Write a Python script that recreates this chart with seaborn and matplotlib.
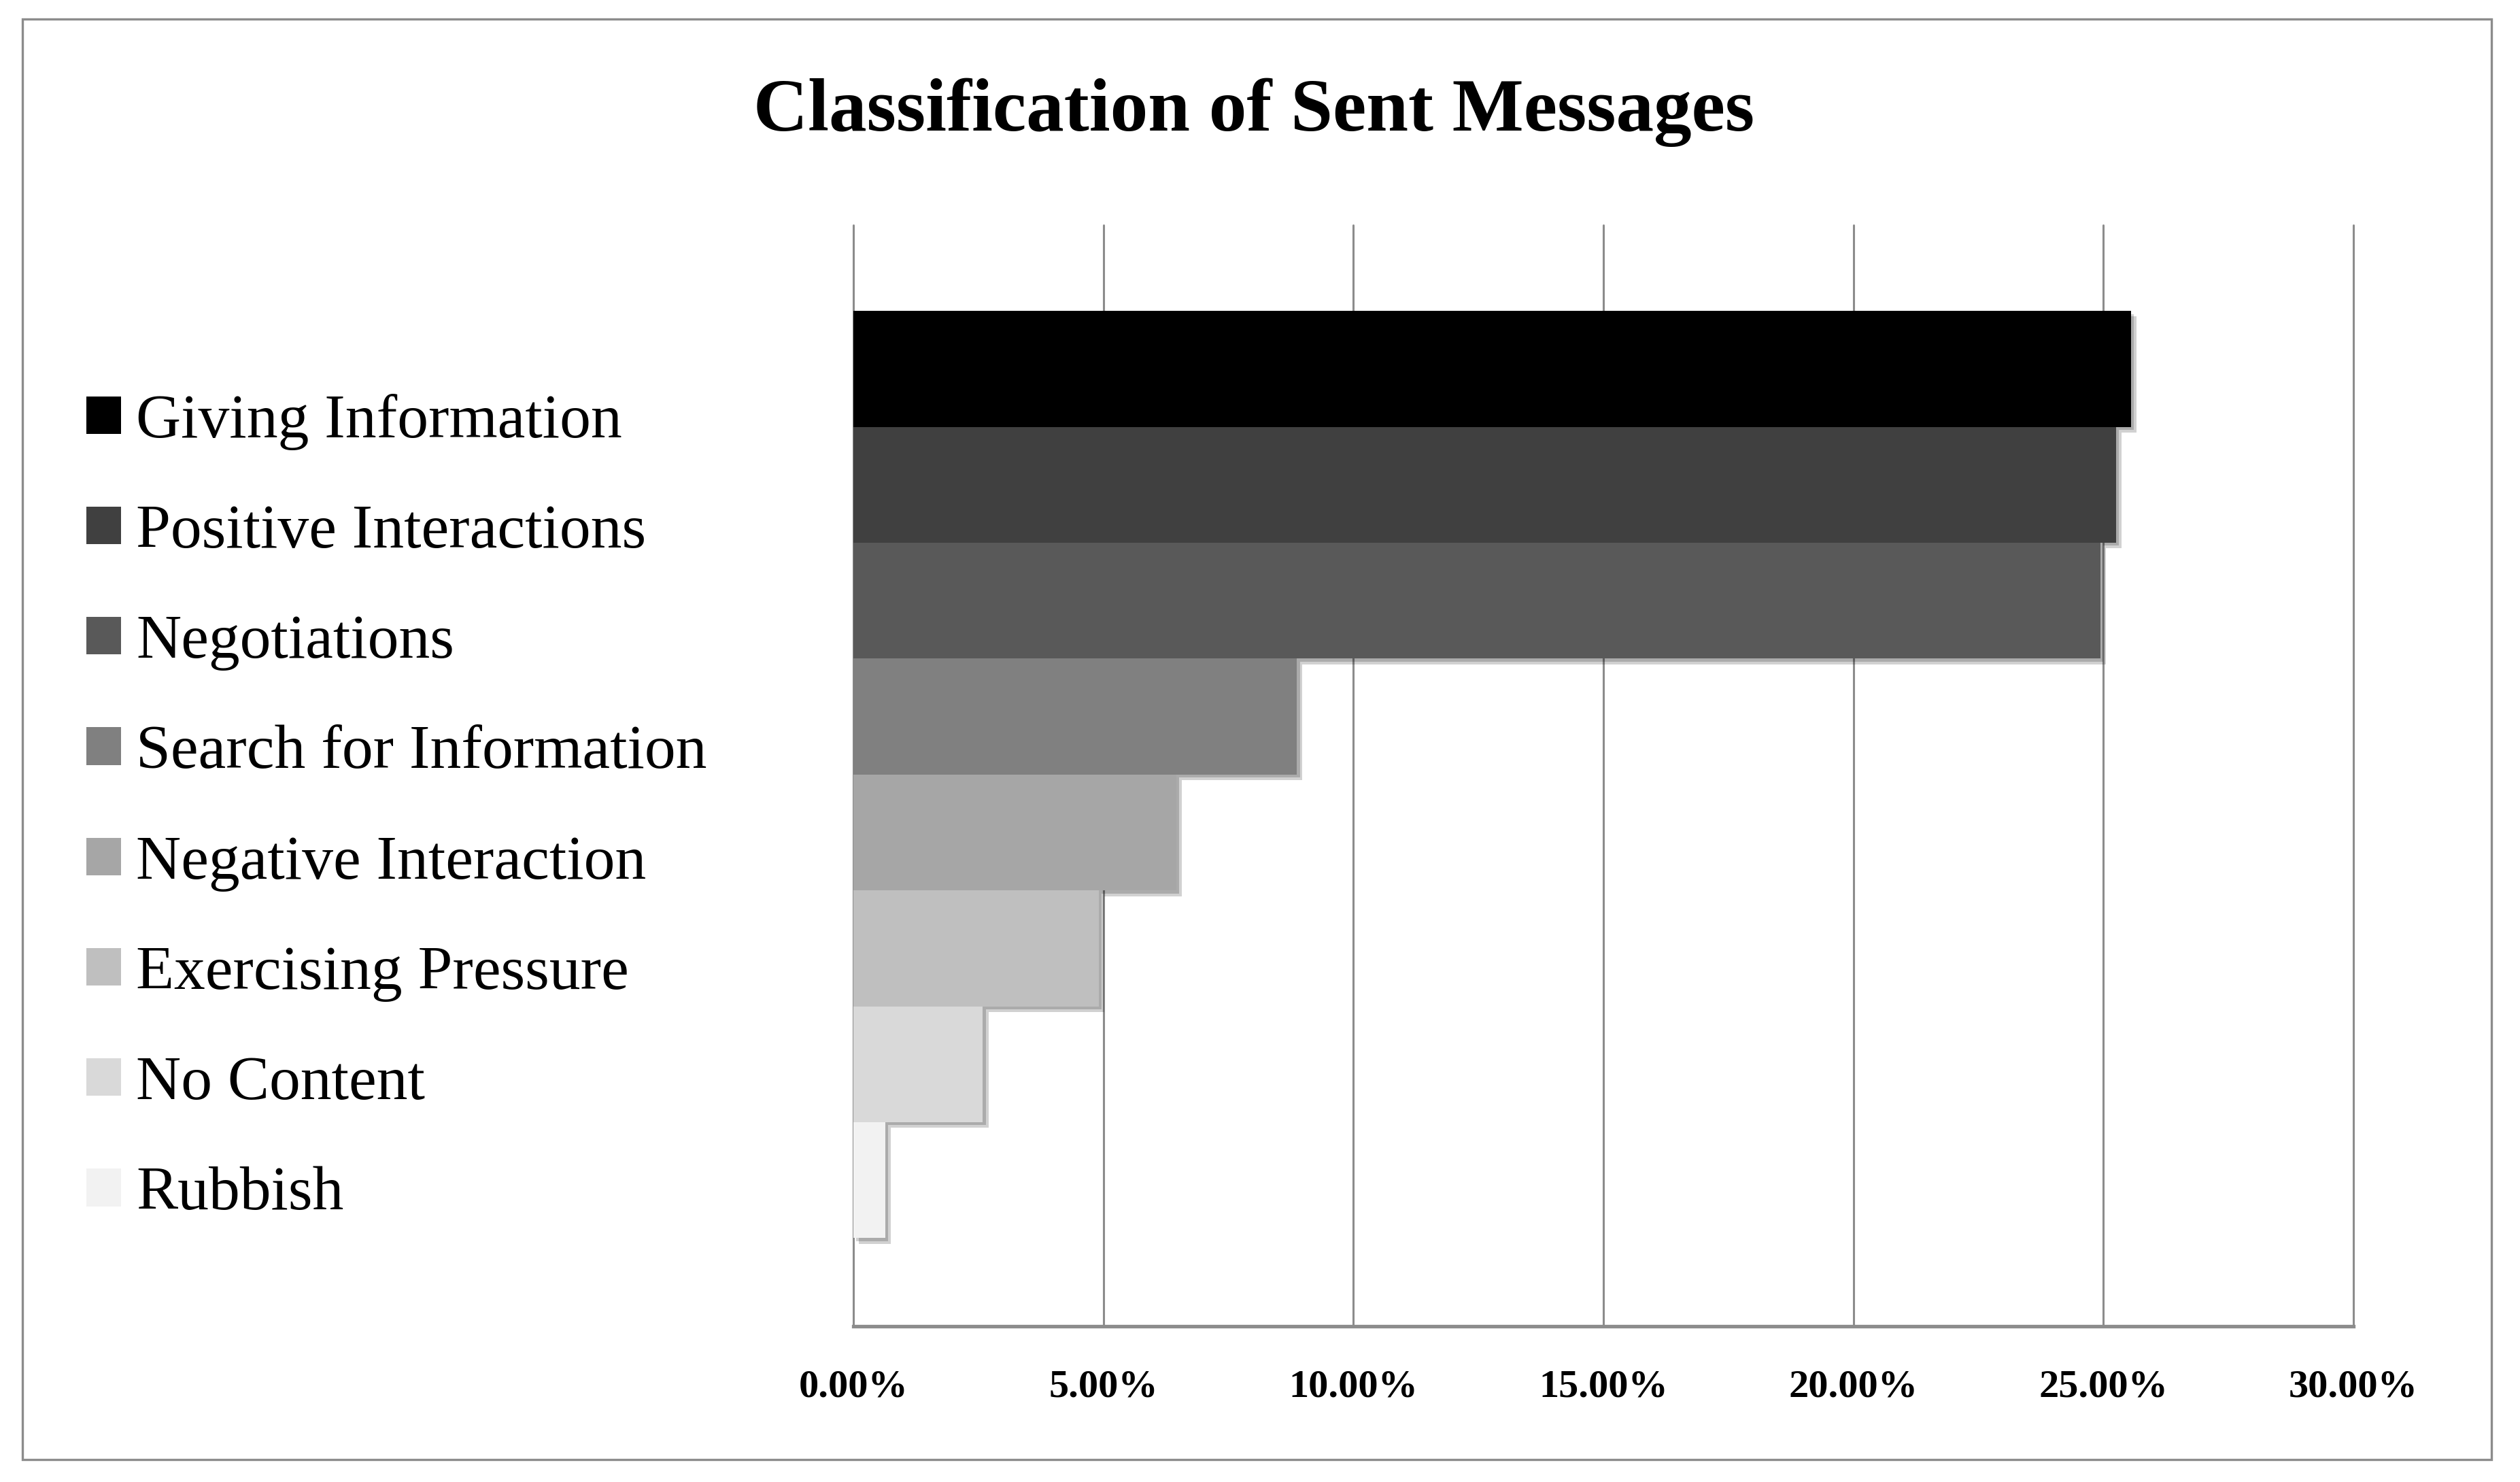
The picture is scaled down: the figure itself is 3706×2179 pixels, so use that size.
import matplotlib
matplotlib.use("Agg")
import matplotlib.pyplot as plt
import matplotlib.patheffects as pe
from matplotlib.patches import Patch, Rectangle
import seaborn as sns
import pandas as pd

categories = ["Giving Information", "Positive Interactions", "Negotiations",
              "Search for Information", "Negative Interaction", "Exercising Pressure",
              "No Content", "Rubbish"]
values = [25.55, 25.25, 24.94, 8.87, 6.46, 4.91, 2.59, 0.64]
colors = ["#000000", "#404040", "#595959", "#808080", "#a6a6a6", "#bfbfbf", "#d9d9d9", "#f2f2f2"]
tick_values = [0, 5, 10, 15, 20, 25, 30]
tick_labels = ["0.00%", "5.00%", "10.00%", "15.00%", "20.00%", "25.00%", "30.00%"]
title = "Classification of Sent Messages"

sns.set_theme(style="white")
plt.rcParams['font.family'] = ['Liberation Serif', 'DejaVu Serif']
plt.rcParams['text.color'] = 'black'
plt.rcParams['xtick.color'] = 'black'

df = pd.DataFrame({"cat": categories, "val": values})

fig = plt.figure(figsize=(18.53, 10.895), dpi=200)
ax = fig.add_axes([0.3386, 0.1051, 0.5953, 0.7430])

sns.barplot(data=df, y="cat", x="val", hue="cat", palette=colors, order=categories,
            hue_order=categories, orient="h", width=1.0, legend=False, ax=ax,
            saturation=1.0, linewidth=0, zorder=3)

for p in ax.patches:
    p.set_path_effects([pe.SimplePatchShadow(offset=(3.0, -3.0), shadow_rgbFace="#000000", alpha=0.18),
                        pe.SimplePatchShadow(offset=(1.6, -1.6), shadow_rgbFace="#000000", alpha=0.18),
                        pe.Normal()])

ax.set_xlim(0, 30)
ax.set_ylim(7.5 + 0.76, -0.5 - 0.74)
ax.set_xticks(tick_values)
ax.set_xticklabels(tick_labels, fontsize=21, fontweight="bold", color="black")
ax.set_yticks([])
ax.set_xlabel("")
ax.set_ylabel("")
ax.tick_params(axis="x", length=0, pad=23, colors="black")
ax.grid(axis="x", color="#8c8c8c", linewidth=1.1, zorder=0)
ax.grid(axis="y", visible=False)
ax.set_axisbelow(True)
for gl in ax.get_xgridlines():
    gl.set_clip_on(False)
for s in ["top", "right", "left"]:
    ax.spines[s].set_visible(False)
ax.spines["bottom"].set_color("#8c8c8c")
ax.spines["bottom"].set_linewidth(1.9)

handles = [Patch(facecolor=c, edgecolor="none", label=l) for c, l in zip(colors, categories)]
leg = fig.legend(handles=handles, loc="center left", bbox_to_anchor=(0.0343, 0.4548),
                 frameon=False, fontsize=33, handlelength=0.55, handleheight=0.55,
                 handletextpad=0.25, labelspacing=0.87, borderpad=0, borderaxespad=0)
for t in leg.get_texts():
    t.set_color("black")

fig.text(0.4976, 0.9243, title, ha="center", va="center", fontsize=40, fontweight="bold",
         color="black")

fig.patches.append(Rectangle((0.0089, 0.0151), 0.9798, 0.9719, transform=fig.transFigure,
                             fill=False, edgecolor="#8c8c8c", linewidth=1.2))

fig.savefig("out.png", dpi=200)
